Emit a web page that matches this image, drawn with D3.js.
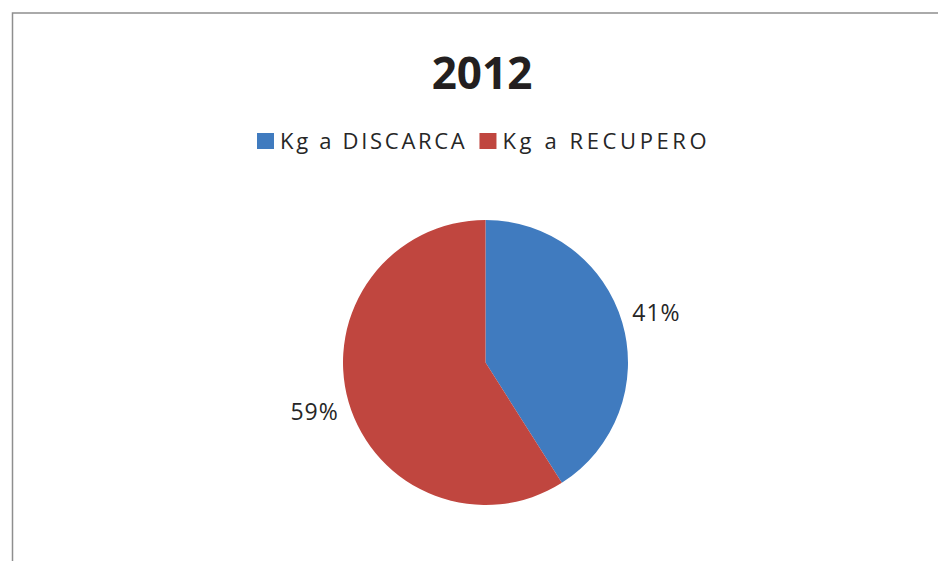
<!DOCTYPE html>
<html lang="it">
<head>
    <meta charset="UTF-8">
    <title>2012</title>
    <script src="https://cdn.jsdelivr.net/npm/d3@7"></script>
    <style>
        body{margin:0;background:#fff;}
        text{font-family:"Open Sans",sans-serif;fill:#262626;}
    </style>
</head>
<body>
<svg width="938" height="561"></svg>
<script>
    // dati
    var categories = ['Kg a DISCARCA', 'Kg a RECUPERO'];
    var values = [41, 59];
    var colors = ['#407bbf', '#c0463f'];
    var title = '2012';

    var svg = d3.select('svg'),
        width = +svg.attr('width'),
        height = +svg.attr('height');

    // cornice del grafico (solo lato sinistro e superiore visibili)
    svg.append('path')
        .attr('d', 'M12.5,' + height + 'V13H' + width)
        .attr('fill', 'none')
        .attr('stroke', '#8e8e8e')
        .attr('stroke-width', 1.5);

    // titolo
    svg.append('text')
        .attr('x', 482)
        .attr('y', 89)
        .attr('text-anchor', 'middle')
        .attr('font-size', 44)
        .attr('font-weight', 'bold')
        .style('fill', '#231f20')
        .text(title);

    // legenda
    var legend = svg.append('g').attr('transform', 'translate(257,133)');
    var xPos = 0;
    categories.forEach(function(c, i){
        var item = legend.append('g').attr('transform', 'translate(' + xPos + ',0)');
        item.append('rect')
            .attr('width', 17)
            .attr('height', 16)
            .attr('fill', colors[i]);
        var t = item.append('text')
            .attr('x', 23)
            .attr('y', 16)
            .attr('font-size', 22)
            .attr('letter-spacing', i === 0 ? 2.7 : 3.6)
            .text(c);
        xPos += 23 + t.node().getComputedTextLength() + 12;
    });

    // torta
    var cx = 485.5, cy = 362.5, r = 142.5;
    var g = svg.append('g').attr('transform', 'translate(' + cx + ',' + cy + ')');

    var pie = d3.pie().sort(null).value(function(d){ return d; });
    var arc = d3.arc().innerRadius(0).outerRadius(r);
    var labelArc = d3.arc().innerRadius(178).outerRadius(178);
    var arcs = pie(values);

    g.selectAll('path')
        .data(arcs)
        .enter().append('path')
        .attr('d', arc)
        .attr('fill', function(d, i){ return colors[i]; });

    g.selectAll('text.lbl')
        .data(arcs)
        .enter().append('text')
        .attr('class', 'lbl')
        .attr('transform', function(d){ return 'translate(' + labelArc.centroid(d) + ')'; })
        .attr('text-anchor', 'middle')
        .attr('dy', '0.36em')
        .attr('font-size', 23)
        .attr('letter-spacing', 1)
        .text(function(d){ return d.data + '%'; });
</script>
</body>
</html>
